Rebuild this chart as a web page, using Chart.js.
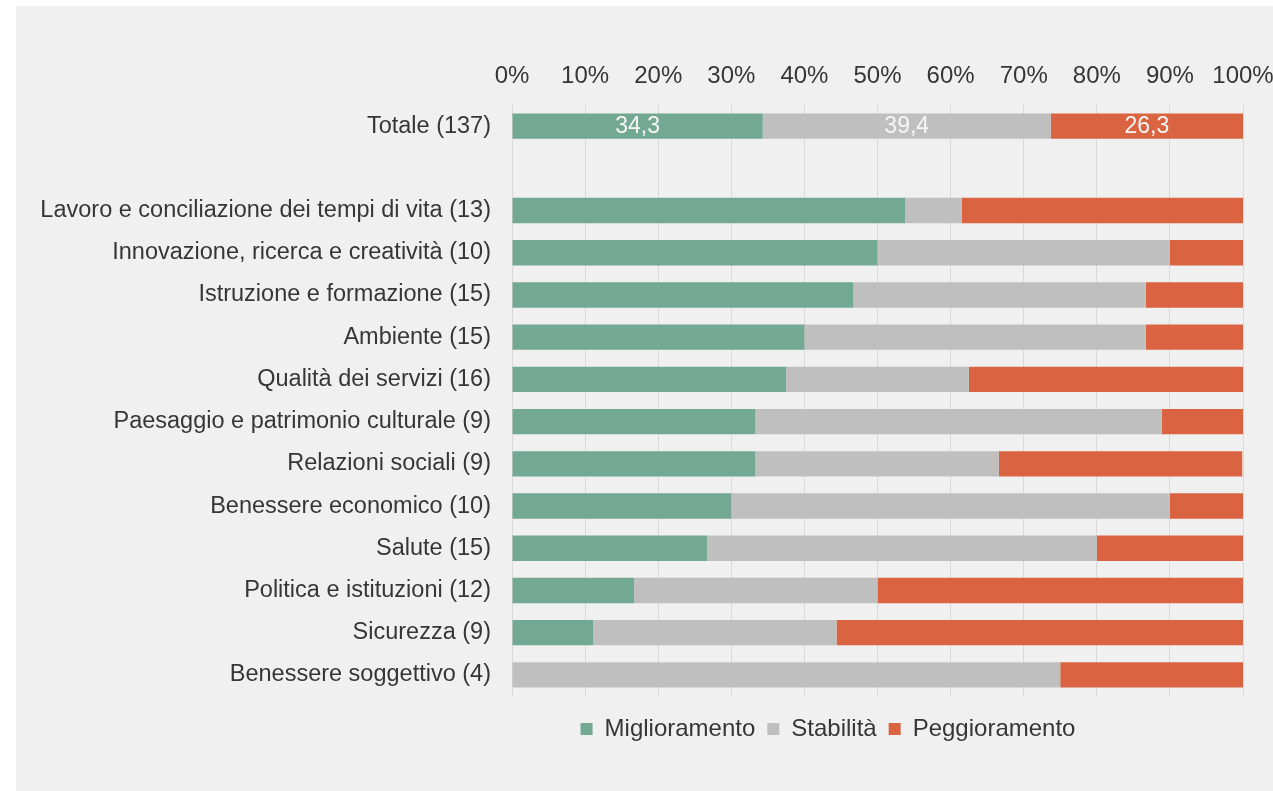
<!DOCTYPE html>
<html>
<head>
<meta charset="utf-8">
<script src="https://cdn.jsdelivr.net/npm/chart.js@4/dist/chart.umd.min.js"></script>
<style>
  html, body { margin: 0; padding: 0; background: #ffffff; }
  #box { position: absolute; left: 16px; top: 6px; width: 1257px; height: 785px; background: #f0f0f0; }
</style>
</head>
<body>
<div id="box"><canvas id="myChart" width="1257" height="785"></canvas></div>
<script>
// categorie (la riga vuota separa il totale dai domini)
var categorie = [
  'Totale (137)',
  '',
  'Lavoro e conciliazione dei tempi di vita (13)',
  'Innovazione, ricerca e creatività (10)',
  'Istruzione e formazione (15)',
  'Ambiente (15)',
  'Qualità dei servizi (16)',
  'Paesaggio e patrimonio culturale (9)',
  'Relazioni sociali (9)',
  'Benessere economico (10)',
  'Salute (15)',
  'Politica e istituzioni (12)',
  'Sicurezza (9)',
  'Benessere soggettivo (4)'
];

// valori in percentuale
var miglioramento = [34.3, null, 53.8, 50.0, 46.7, 40.0, 37.5, 33.3, 33.3, 30.0, 26.7, 16.7, 11.1, 0];
var stabilita     = [39.4, null,  7.7, 40.0, 40.0, 46.7, 25.0, 55.6, 33.3, 60.0, 53.3, 33.3, 33.3, 75.0];
var peggioramento = [26.3, null, 38.5, 10.0, 13.3, 13.3, 37.5, 11.1, 33.3, 10.0, 20.0, 50.0, 55.6, 25.0];

var tickPercentuali = ['0%', '10%', '20%', '30%', '40%', '50%', '60%', '70%', '80%', '90%', '100%'];

var font = 'Liberation Sans, Arial, sans-serif';
var grigioTesto = '#363636';

// etichette bianche solo sulla barra del totale
var etichetteTotale = {
  id: 'etichetteTotale',
  afterDatasetsDraw: function(chart) {
    var ctx = chart.ctx;
    ctx.save();
    ctx.font = '23px ' + font;
    ctx.fillStyle = '#f6f6f6';
    ctx.textAlign = 'center';
    ctx.textBaseline = 'middle';
    chart.data.datasets.forEach(function(ds, i) {
      var bar = chart.getDatasetMeta(i).data[0];
      var v = ds.data[0];
      if (!bar || v == null) return;
      var p = bar.getProps(['x', 'y', 'base'], true);
      ctx.fillText(v.toFixed(1).replace('.', ','), (p.x + p.base) / 2, p.y + 1);
    });
    ctx.restore();
  }
};

// sposta la legenda sotto il grafico come nell'originale
var spostaLegenda = {
  id: 'spostaLegenda',
  afterLayout: function(chart) {
    var l = chart.legend;
    var w = l.right - l.left;
    var centro = 812;
    l.left = centro - w / 2;
    l.right = centro + w / 2;
    l.top += 9;
    l.bottom += 9;
  }
};

var ctx = document.getElementById('myChart').getContext('2d');
var myChart = new Chart(ctx, {
  type: 'bar',
  data: {
    labels: categorie,
    datasets: [
      { label: 'Miglioramento', data: miglioramento, backgroundColor: '#73a893' },
      { label: 'Stabilità', data: stabilita, backgroundColor: '#bfbfbf' },
      { label: 'Peggioramento', data: peggioramento, backgroundColor: '#da6441' }
    ]
  },
  options: {
    indexAxis: 'y',
    responsive: false,
    animation: false,
    layout: { padding: { top: 59, right: 30, left: 0, bottom: 49 } },
    datasets: { bar: { categoryPercentage: 1, barPercentage: 0.6 } },
    scales: {
      x: {
        position: 'top',
        stacked: true,
        min: 0,
        max: 100,
        afterFit: function(s) { s.height = 40; s.paddingRight = 0; s.paddingLeft = 0; },
        afterBuildTicks: function(s) {
          s.ticks = tickPercentuali.map(function(t, i) { return { value: i * 10 }; });
        },
        grid: { color: '#d9d9d9', drawTicks: false },
        border: { display: false },
        ticks: {
          padding: 14,
          color: grigioTesto,
          font: { family: font, size: 24 },
          callback: function(v, i) { return tickPercentuali[i]; }
        }
      },
      y: {
        stacked: true,
        afterFit: function(s) { s.width = 496; },
        grid: { display: false, drawTicks: false },
        border: { display: false },
        ticks: {
          padding: 21,
          color: grigioTesto,
          font: { family: font, size: 23.5 }
        }
      }
    },
    plugins: {
      tooltip: { enabled: false },
      legend: {
        position: 'bottom',
        labels: {
          boxWidth: 12,
          boxHeight: 12,
          padding: 12,
          color: grigioTesto,
          font: { family: font, size: 24 }
        }
      }
    }
  },
  plugins: [etichetteTotale, spostaLegenda]
});
</script>
</body>
</html>
